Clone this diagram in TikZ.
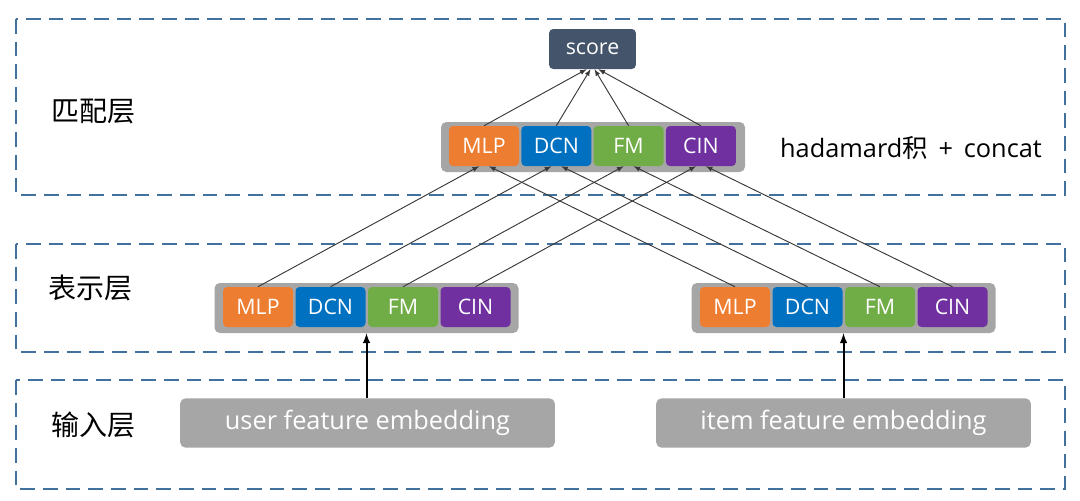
\documentclass[tikz,border=0pt]{standalone}
\usepackage{fontspec}
\setmainfont{Open Sans}
\newfontfamily\cjk{Noto Sans CJK SC}
\usetikzlibrary{arrows}
\definecolor{mlpcol}{HTML}{ED7D31}
\definecolor{dcncol}{HTML}{0070C0}
\definecolor{fmcol}{HTML}{70AD47}
\definecolor{cincol}{HTML}{7030A0}
\definecolor{barcol}{HTML}{A6A6A6}
\definecolor{scorecol}{HTML}{44546A}
\definecolor{dashcol}{HTML}{41719C}
\definecolor{linecol}{HTML}{383838}
\begin{document}
\begin{tikzpicture}[x=0.75pt,y=0.75pt]
                    \tikzstyle{every node}+=[inner sep=0pt]
                    \tikzstyle{layer}=[dashcol, line width=2pt, dash pattern=on 11pt off 6pt]
                    \tikzstyle{bar}=[fill=barcol, rounded corners=4pt, minimum width=228pt, minimum height=37.5pt]
                    \tikzstyle{block}=[rounded corners=3pt, minimum width=52.5pt, minimum height=30pt, text=white, font=\fontsize{16}{16}\selectfont]
                    \tikzstyle{input}=[fill=barcol, rounded corners=4pt, minimum width=281pt, minimum height=37pt, text=white, font=\fontsize{19}{19}\selectfont]
                    \tikzstyle{lbl}=[font=\cjk\fontsize{21}{21}\selectfont]
                    \tikzstyle{link}=[linecol, line width=0.7pt, -latex]
                    \useasboundingbox (0,0) rectangle (1080,-500);
                    % layers
                    \draw [layer] (16,-19) rectangle (1065,-195);
                    \draw [layer] (16,-244) rectangle (1065,-352);
                    \draw [layer] (16,-380) rectangle (1065,-489);
                    \node [lbl] (lmatch) at (93,-112) {匹配层};
                    \node [lbl] (lrepr) at (90,-288) {表示层};
                    \node [lbl] (linput) at (93,-425) {输入层};
                    % matching layer
                    \node [fill=scorecol, rounded corners=3pt, minimum width=65pt, minimum height=30pt, text=white, font=\fontsize{16}{16}\selectfont] (score) at (592.5,-49) {\raisebox{-1pt}{score}};
                    \node [bar] (tbar) at (593,-147) {};
                    \node [block, fill=mlpcol] (tmlp) at (484,-146) {MLP};
                    \node [block, fill=dcncol] (tdcn) at (556.3,-146) {DCN};
                    \node [block, fill=fmcol] (tfm) at (628.6,-146) {FM};
                    \node [block, fill=cincol] (tcin) at (700.9,-146) {CIN};
                    \node [font=\fontsize{19}{19}\selectfont] (hada) at (911,-148) {hadamard{\cjk 积}\ \,+\ \,concat};
                    % representation layer
                    \node [bar] (ubar) at (366.5,-308) {};
                    \node [block, fill=mlpcol] (umlp) at (258,-307) {MLP};
                    \node [block, fill=dcncol] (udcn) at (330.5,-307) {DCN};
                    \node [block, fill=fmcol] (ufm) at (403,-307) {FM};
                    \node [block, fill=cincol] (ucin) at (475.5,-307) {CIN};
                    \node [bar] (ibar) at (843.5,-308) {};
                    \node [block, fill=mlpcol] (imlp) at (735,-307) {MLP};
                    \node [block, fill=dcncol] (idcn) at (807.5,-307) {DCN};
                    \node [block, fill=fmcol] (ifm) at (880,-307) {FM};
                    \node [block, fill=cincol] (icin) at (952.5,-307) {CIN};
                    % input layer
                    \node [input] (uemb) at (367.5,-423) {\raisebox{-1.5pt}{user feature embedding}};
                    \node [input] (iemb) at (843.5,-423) {\raisebox{-1.5pt}{item feature embedding}};
                    % connectors
                    \draw [black, line width=1.5pt, -latex] (uemb.north -| ubar.south) -- (ubar.south);
                    \draw [black, line width=1.5pt, -latex] (iemb.north -| ibar.south) -- (ibar.south);
                    \draw [link] (umlp.north) -- ([xshift=-3.75pt]tmlp.south);
                    \draw [link] (udcn.north) -- ([xshift=-3.75pt]tdcn.south);
                    \draw [link] (ufm.north) -- ([xshift=-3.75pt]tfm.south);
                    \draw [link] (ucin.north) -- ([xshift=-3.75pt]tcin.south);
                    \draw [link] (imlp.north) -- ([xshift=3.75pt]tmlp.south);
                    \draw [link] (idcn.north) -- ([xshift=3.75pt]tdcn.south);
                    \draw [link] (ifm.north) -- ([xshift=3.75pt]tfm.south);
                    \draw [link] (icin.north) -- ([xshift=3.75pt]tcin.south);
                    \draw [link] (tmlp.north) -- ([xshift=-4.5pt]score.south);
                    \draw [link] (tdcn.north) -- ([xshift=-1.5pt]score.south);
                    \draw [link] (tfm.north) -- ([xshift=1.5pt]score.south);
                    \draw [link] (tcin.north) -- ([xshift=4.5pt]score.south);
\end{tikzpicture}
\end{document}
